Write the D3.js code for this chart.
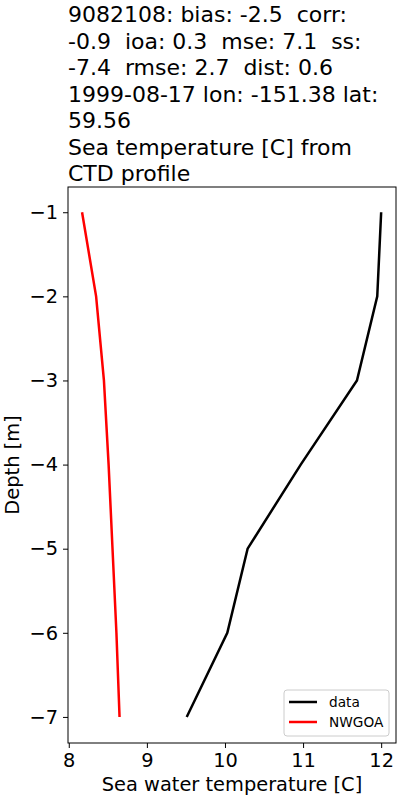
<!DOCTYPE html>
<html>
<head>
<meta charset="utf-8">
<script src="https://cdn.jsdelivr.net/npm/d3@7/dist/d3.min.js"></script>
<style>
  body { margin: 0; background: #fff; }
  svg { font-family: "DejaVu Sans", sans-serif; }
</style>
</head>
<body>
<svg width="400" height="800"></svg>
<script>
// profile values
var depths = [-1, -2, -3, -4, -5, -6, -7];
var dataTemp = [12.0, 11.95, 11.69, 10.97, 10.29, 10.03, 9.51];
var modelTemp = [8.17, 8.35, 8.45, 8.51, 8.56, 8.61, 8.65];
var xTicks = [8, 9, 10, 11, 12];
var yTicks = [-1, -2, -3, -4, -5, -6, -7];
var titleLines = [
  "9082108: bias: -2.5  corr:",
  "-0.9  ioa: 0.3  mse: 7.1  ss:",
  "-7.4  rmse: 2.7  dist: 0.6",
  "1999-08-17 lon: -151.38 lat:",
  "59.56",
  "Sea temperature [C] from",
  "CTD profile"
];
var seriesNames = ["data", "NWGOA"];
var seriesColors = ["#000000", "#ff0000"];

var svg = d3.select("svg");
var m = {left: 68, right: 396, top: 187, bottom: 743};

var x = d3.scaleLinear().domain([7.99, 12.19]).range([m.left, m.right]);
var y = d3.scaleLinear().domain([-0.7, -7.31]).range([m.top, m.bottom]);

// title
svg.append("g").selectAll("text")
    .data(titleLines)
  .enter().append("text")
    .attr("x", m.left)
    .attr("y", function(d, i) { return 22 + i * 26.5; })
    .style("font-size", "22px")
    .style("white-space", "pre")
    .text(function(d) { return d; });

// axes
var xAxis = svg.append("g")
    .attr("transform", "translate(0," + m.bottom + ")")
    .call(d3.axisBottom(x).tickValues(xTicks).tickSize(5).tickPadding(5).tickFormat(d3.format("d")));
var yAxis = svg.append("g")
    .attr("transform", "translate(" + m.left + ",0)")
    .call(d3.axisLeft(y).tickValues(yTicks).tickSize(5).tickPadding(5)
      .tickFormat(function(d) { return "\u2212" + Math.abs(d); }));

[xAxis, yAxis].forEach(function(a) {
  a.select(".domain").remove();
  a.selectAll("line").attr("stroke", "#000").attr("stroke-width", 1);
  a.selectAll("text").style("font-size", "19.4px").style("font-family", "DejaVu Sans").attr("fill", "#000");
});

// frame
svg.append("rect")
    .attr("x", m.left).attr("y", m.top)
    .attr("width", m.right - m.left).attr("height", m.bottom - m.top)
    .attr("fill", "none").attr("stroke", "#000").attr("stroke-width", 1);

// lines
var line = d3.line()
    .x(function(d) { return x(d[0]); })
    .y(function(d) { return y(d[1]); });

[dataTemp, modelTemp].forEach(function(s, k) {
  svg.append("path")
      .datum(s.map(function(v, i) { return [v, depths[i]]; }))
      .attr("fill", "none")
      .attr("stroke", seriesColors[k])
      .attr("stroke-width", 2.5)
      .attr("d", line);
});

// axis labels
svg.append("text")
    .attr("x", (m.left + m.right) / 2)
    .attr("y", 791)
    .attr("text-anchor", "middle")
    .style("font-size", "19.4px")
    .text("Sea water temperature [C]");
svg.append("text")
    .attr("transform", "translate(19," + ((m.top + m.bottom) / 2) + ") rotate(-90)")
    .attr("text-anchor", "middle")
    .style("font-size", "19.4px")
    .text("Depth [m]");

// legend
var lg = svg.append("g").attr("transform", "translate(284,690)");
lg.append("rect")
    .attr("width", 105).attr("height", 46)
    .attr("rx", 3)
    .attr("fill", "#fff").attr("fill-opacity", 0.8)
    .attr("stroke", "#ccc");
var item = lg.selectAll("g.item")
    .data(seriesNames)
  .enter().append("g")
    .attr("class", "item")
    .attr("transform", function(d, i) { return "translate(0," + (12 + i * 20) + ")"; });
item.append("line")
    .attr("x1", 5).attr("x2", 33)
    .attr("stroke", function(d, i) { return seriesColors[i]; })
    .attr("stroke-width", 2.5);
item.append("text")
    .attr("x", 45).attr("y", 5)
    .style("font-size", "13.7px")
    .text(function(d) { return d; });
</script>
</body>
</html>
